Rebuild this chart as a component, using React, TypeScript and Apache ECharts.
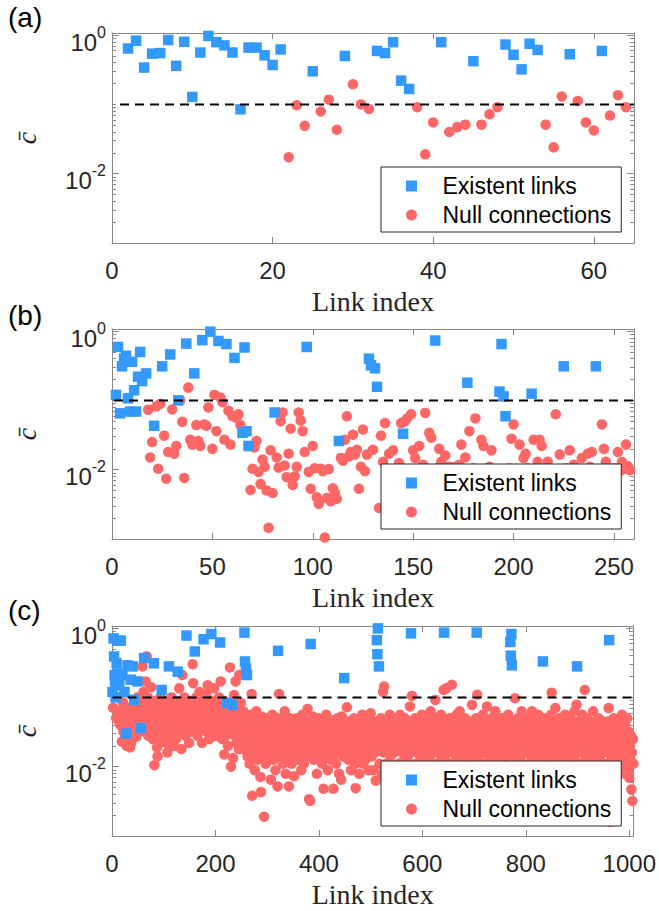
import React, { useEffect, useRef } from "react";
import * as echarts from "echarts";

// ---------- data (c-bar values, log axis) ----------
const threshold = 0.1;

// Panel (a): [link index, c]
const existA: [number, number][] = [
  [2, 0.64], [3, 0.83], [4, 0.34], [5, 0.54], [6, 0.55], [7, 0.85], [8, 0.36], [9, 0.8], [10, 0.128], [11, 0.56],
  [12, 0.97], [13, 0.79], [14, 0.71], [15, 0.56], [16, 0.085], [17, 0.66], [18, 0.66], [19, 0.51], [20, 0.37], [21, 0.62],
  [25, 0.3], [29, 0.5], [33, 0.59], [34, 0.55], [35, 0.79], [36, 0.22], [37, 0.167], [41, 0.79], [45, 0.42],
  [49, 0.73], [50, 0.52], [51, 0.32], [52, 0.75], [53, 0.61], [57, 0.53], [61, 0.59],
];
const nullA: [number, number][] = [
  [22, 0.0173], [23, 0.097], [24, 0.049], [26, 0.079], [27, 0.117], [28, 0.043], [30, 0.195], [31, 0.1], [32, 0.086],
  [38, 0.091], [39, 0.019], [40, 0.055], [42, 0.04], [43, 0.047], [44, 0.051], [46, 0.051], [47, 0.072], [48, 0.091],
  [54, 0.051], [55, 0.024], [56, 0.13], [58, 0.112], [59, 0.055], [60, 0.042], [62, 0.069], [63, 0.136], [64, 0.091],
];

// Panel (b)
const existB: [number, number][] = [
  [2, 0.12], [3, 0.59], [4, 0.065], [5, 0.31], [6, 0.4], [7, 0.44], [8, 0.107], [9, 0.069], [10, 0.36], [11, 0.14],
  [12, 0.069], [13, 0.22], [14, 0.5], [15, 0.19], [17, 0.245], [21, 0.043], [25, 0.31], [29, 0.46], [33, 0.1], [37, 0.66],
  [41, 0.245], [45, 0.74], [49, 0.98], [53, 0.72], [57, 0.65], [61, 0.41], [65, 0.034], [66, 0.58], [67, 0.036], [68, 0.022],
  [81, 0.067], [97, 0.59], [113, 0.026], [128, 0.4], [129, 0.32], [131, 0.29], [132, 0.157], [145, 0.033], [161, 0.73],
  [177, 0.18], [193, 0.134], [194, 0.65], [195, 0.114], [196, 0.059], [209, 0.125], [225, 0.31], [241, 0.31],
];
const nullB: [number, number][] = [
  [18, 0.073], [19, 0.015], [20, 0.025], [22, 0.082], [23, 0.0103], [24, 0.089], [26, 0.031], [27, 0.0074], [28, 0.018],
  [30, 0.074], [31, 0.017], [32, 0.022], [34, 0.1], [35, 0.049], [36, 0.0076], [38, 0.153], [39, 0.027], [40, 0.023],
  [42, 0.044], [43, 0.026], [44, 0.022], [46, 0.045], [47, 0.043], [48, 0.079], [50, 0.02], [51, 0.12], [52, 0.036],
  [54, 0.11], [55, 0.094], [56, 0.027], [58, 0.071], [59, 0.023], [60, 0.059], [62, 0.056], [63, 0.063], [64, 0.044],
  [69, 0.0051], [70, 0.0103], [71, 0.021], [72, 0.026], [73, 0.0093], [74, 0.0062], [75, 0.014], [76, 0.011], [77, 0.005],
  [78, 0.00145], [79, 0.019], [80, 0.0046], [82, 0.015], [83, 0.0107], [84, 0.05], [85, 0.067], [86, 0.0115], [87, 0.0078],
  [88, 0.017], [89, 0.039], [90, 0.006], [91, 0.008], [92, 0.011], [93, 0.067], [94, 0.051], [95, 0.036], [96, 0.018],
  [98, 0.0093], [99, 0.0053], [100, 0.022], [101, 0.0105], [102, 0.004], [103, 0.0032], [104, 0.0103], [105, 0.0095],
  [106, 0.00105], [107, 0.0039], [108, 0.0102], [109, 0.0035], [110, 0.0054], [111, 0.0046], [112, 0.0038], [114, 0.0148],
  [115, 0.0135], [116, 0.027], [117, 0.059], [118, 0.0155], [119, 0.018], [120, 0.032], [121, 0.0165], [122, 0.0194],
  [123, 0.0053], [124, 0.011], [125, 0.038], [126, 0.0095], [127, 0.0165], [130, 0.0194], [133, 0.0028], [134, 0.031],
  [135, 0.013], [136, 0.047], [137, 0.0029], [138, 0.017], [139, 0.0085], [140, 0.019], [141, 0.0062], [142, 0.0105],
  [143, 0.0125], [144, 0.047], [146, 0.05], [147, 0.055], [148, 0.0072], [149, 0.063], [150, 0.019], [151, 0.0147],
  [152, 0.0095], [153, 0.022], [154, 0.0058], [155, 0.0118], [156, 0.066], [157, 0.0088], [158, 0.034], [159, 0.029],
  [160, 0.0045], [162, 0.0105], [163, 0.02], [164, 0.013], [165, 0.0068], [166, 0.016], [167, 0.0092], [168, 0.011],
  [169, 0.0035], [170, 0.0078], [171, 0.011], [172, 0.0055], [173, 0.0118], [174, 0.023], [175, 0.0098], [176, 0.015],
  [178, 0.036], [179, 0.0065], [180, 0.0105], [181, 0.055], [182, 0.0082], [183, 0.0048], [184, 0.027], [185, 0.022],
  [186, 0.0095], [187, 0.0068], [188, 0.011], [189, 0.019], [190, 0.0075], [191, 0.0052], [197, 0.0088], [198, 0.0105],
  [199, 0.028], [200, 0.045], [201, 0.0062], [202, 0.0092], [203, 0.023], [204, 0.0078], [205, 0.0147], [206, 0.017],
  [207, 0.0105], [208, 0.0058], [210, 0.027], [211, 0.0085], [212, 0.013], [213, 0.027], [214, 0.022], [215, 0.0068],
  [216, 0.0098], [217, 0.013], [218, 0.0105], [219, 0.0052], [220, 0.0082], [221, 0.063], [222, 0.0095], [223, 0.0165],
  [224, 0.0072], [226, 0.0105], [227, 0.0062], [228, 0.019], [229, 0.0088], [230, 0.0118], [231, 0.0105], [232, 0.0075],
  [233, 0.0055], [234, 0.0147], [235, 0.0098], [236, 0.0068], [237, 0.017], [238, 0.011], [239, 0.018], [240, 0.0082],
  [242, 0.0095], [243, 0.0062], [244, 0.045], [245, 0.02], [246, 0.013], [247, 0.0105], [248, 0.0078], [249, 0.0088],
  [250, 0.0105], [251, 0.0068], [252, 0.018], [253, 0.0095], [254, 0.0129], [255, 0.0103], [256, 0.023], [257, 0.0112],
  [258, 0.0098],
];

// Panel (c)
const existC: [number, number][] = [
  [1, 0.12], [3, 0.71], [4, 0.39], [5, 0.21], [6, 0.17], [7, 0.1], [9, 0.31], [10, 0.22], [11, 0.66], [14, 0.15],
  [17, 0.66], [20, 0.21], [24, 0.12], [27, 0.03], [30, 0.29], [36, 0.18], [40, 0.28], [43, 0.092], [49, 0.17], [56, 0.036],
  [62, 0.37], [81, 0.31], [96, 0.128], [110, 0.28], [127, 0.235], [144, 0.78], [160, 0.46], [177, 0.69], [192, 0.82],
  [209, 0.62], [223, 0.083], [233, 0.078], [256, 0.86], [257, 0.33], [259, 0.26], [261, 0.21], [321, 0.47], [384, 0.59],
  [449, 0.19], [512, 0.67], [513, 0.42], [514, 0.99], [516, 0.28], [578, 0.84], [642, 0.86], [705, 0.86], [770, 0.63],
  [771, 0.4], [772, 0.82], [773, 0.29], [833, 0.33], [899, 0.28], [961, 0.67],
];
const linkCountC = 1008;
// values of the null connections, in link order (links that are not in existC)
const nullCValues: number[] = [
  .071,.05,.063,.045,.056,.04,.063,.023,.085,.032,.05,.06,.028,.02,.045,.038,.056,.03,.071,.019,.022,.04,.063,.05,.035,.067,.045,.079,.027,.056,.1,
  .053,.045,.074,.032,.063,.041,.089,.28,.05,.12,.036,.071,.17,.056,.39,.045,.1,.028,.063,.05,.079,.035,.056,.14,.045,.063,.025,.071,.0105,.05,.089,.032,.056,.019,.014,.063,.04,.079,.022,.05,.1,.035,.063,.028,.071,.045,
  .056,.032,.079,.045,.063,.022,.016,.05,.089,.04,.071,.028,.056,.1,.045,.035,.063,.02,.079,.05,.04,.067,.025,.056,.089,.045,.071,.135,.032,.063,.05,.018,.079,.21,.045,.056,.036,.1,.063,.028,.071,.05,.04,.085,.056,.022,.063,
  .071,.045,.056,.089,.032,.30,.16,.063,.05,.079,.04,.1,.056,.028,.071,.045,.063,.12,.05,.035,.079,.056,.022,.063,.089,.045,.071,.04,.056,.11,.032,.063,.15,.05,.079,.025,.056,.071,.045,.089,.035,.063,.05,.135,.04,.071,.028,
  .056,.04,.079,.032,.063,.045,.1,.05,.17,.035,.071,.025,.056,.04,.089,.015,.063,.045,.028,.071,.05,.02,.063,.036,.079,.27,.045,.01,.056,.032,.0133,.05,.108,.028,.063,.17,.04,.022,.056,.035,.071,.018,.21,.045,.025,.083,.032,
  .028,.045,.018,.063,.032,.022,.05,.014,.035,.025,.04,.011,.028,.056,.02,.112,.0038,.032,.016,.045,.025,.0089,.035,.02,.063,.028,.0126,.04,.022,.05,.018,.032,.0071,.0043,.053,.025,.014,.036,.02,.0019,.028,.045,.011,.032,.018,.05,
  .022,.035,.014,.028,.045,.018,.0065,.032,.02,.056,.025,.0126,.04,.016,.028,.0089,.035,.022,.05,.0052,.028,.112,.018,.032,.047,.014,.025,.04,.011,.022,.035,.016,.063,.028,.0079,.02,.045,.014,.032,.022,.0052,.028,.05,.018,.035,.011,.025,.04,.016,
  .028,.0073,.04,.018,.032,.022,.05,.014,.028,.0126,.035,.02,.045,.016,.025,.0089,.032,.056,.018,.028,.011,.04,.022,.035,.014,.025,.045,.068,.02,.032,.0034,.016,.0032,.028,.04,.018,.053,.025,.0126,.035,.02,.045,.016,.028,.0079,.032,.022,.05,.014,
  .025,.035,.016,.047,.022,.011,.032,.02,.0048,.028,.04,.014,.025,.056,.018,.032,.0089,.022,.035,.016,.045,.025,.0126,.028,.02,.04,.014,.0048,.032,.047,.018,.025,.011,.035,.02,.05,.016,.028,.0079,.032,.022,.04,.0065,.053,.018,.028,.014,.035,.022,
  .032,.016,.025,.072,.02,.035,.0126,.028,.045,.018,.025,.0089,.032,.022,.04,.014,.028,.05,.02,.011,.0049,.035,.018,.025,.045,.016,.032,.0079,.022,.04,.014,.028,.02,.056,.025,.011,.035,.018,.028,.0126,.045,.022,.032,.016,.025,.0089,.04,.02,.028,.059,
  .025,.014,.035,.02,.0089,.045,.028,.016,.032,.0063,.022,.04,.011,.028,.018,.05,.025,.0079,.035,.12,.016,.143,.028,.02,.045,.011,.032,.022,.0071,.04,.018,.028,.056,.014,.025,.035,.0089,.02,.045,.028,.016,.032,.0063,.022,.04,.025,
  .018,.045,.028,.011,.035,.02,.056,.025,.0079,.032,.016,.04,.022,.028,.0126,.05,.018,.032,.0063,.025,.04,.014,.028,.02,.045,.074,.016,.032,.105,.022,.0089,.035,.018,.028,.05,.011,.025,.04,.016,.032,.02,.0071,.045,.025,.014,.035,.022,.056,.028,
  .018,.04,.011,.032,.022,.05,.016,.028,.0079,.035,.02,.045,.025,.014,.032,.063,.018,.028,.0089,.04,.022,.032,.016,.05,.092,.025,.011,.035,.02,.028,.0063,.045,.018,.032,.022,.056,.014,.028,.04,.02,.128,.025,.0126,.035,.135,.018,.045,.028,.016,
  .032,.022,.05,.011,.028,.04,.152,.018,.035,.025,.0079,.045,.02,.032,.014,.056,.025,.0089,.04,.018,.028,.063,.022,.035,.011,.045,.016,.028,.0071,.032,.02,.05,.025,.014,.04,.022,.0089,.035,.018,.028,.045,.016,.032,.0126,.025,.078,.02,.04,.011,.028,
  .018,.035,.022,.05,.109,.025,.014,.032,.02,.045,.0089,.028,.016,.04,.022,.056,.011,.032,.025,.018,.035,.0071,.028,.074,.02,.045,.014,.032,.025,.0079,.04,.018,.028,.05,.022,.011,.035,.016,.028,.063,.02,.0089,.032,.025,.045,.014,.028,.02,.04,
  .016,.032,.022,.05,.011,.028,.04,.018,.035,.0079,.025,.045,.014,.032,.02,.056,.025,.0089,.035,.018,.028,.045,.016,.032,.097,.022,.0126,.04,.025,.018,.05,.0071,.032,.022,.035,.014,.028,.063,.02,.04,.011,.025,.032,.018,.045,.028,
  .016,.035,.022,.05,.0089,.028,.04,.018,.032,.014,.025,.063,.02,.035,.011,.028,.045,.016,.032,.0079,.025,.04,.02,.056,.014,.028,.035,.018,.045,.0126,.025,.032,.022,.05,.016,.028,.0089,.04,.02,.032,.025,.0071,.045,.018,.028,.035,.014,.056,.117,
  .025,.04,.018,.032,.011,.028,.07,.02,.045,.016,.035,.0089,.025,.05,.022,.032,.014,.04,.028,.0079,.02,.045,.025,.035,.016,.056,.022,.011,.032,.028,.018,.04,.0126,.025,.05,.02,.035,.0089,.028,.045,.016,.032,.022,.063,.014,.028,.04,.078,.02,
  .032,.016,.045,.025,.011,.035,.02,.028,.056,.018,.0089,.04,.022,.128,.032,.014,.025,.05,.018,.035,.0079,.028,.045,.02,.032,.011,.04,.025,.016,.063,.022,.035,.0126,.028,.045,.018,.032,.0089,.025,.05,.02,.035,.014,.047,.028,.022,.04,.016,.032,.025,
  .018,.04,.028,.021,.011,.035,.02,.045,.016,.07,.025,.0016,.032,.014,.028,.0089,.04,.022,.05,.018,.032,.011,.025,.035,.0079,.02,.045,.028,.016,.032,.022,.04,.014,.028,.056,.02,.011,.035,.025,.0079,.04,.018,.028,.014,.05,.022,.0089,.032,.0069,.02,.0126,.028,.0047,.016,.0032,.025,.011,
];

// axes
const xMaxes = [65, 260, 1008];
const xTickValues = [
  [0, 20, 40, 60],
  [0, 50, 100, 150, 200, 250],
  [0, 200, 400, 600, 800, 1000],
];
const yMajorExp = [-2, 0];
const panelTags = ["(a)", "(b)", "(c)"];

// ---------- styling / layout ----------
const SANS = "'Liberation Sans', Arial, sans-serif";
const SERIF = "'Liberation Serif', 'Times New Roman', serif";
const AXIS_C = "#888888";
const TXT_C = "#262626";
const BLUE = "#3399FF";
const RED = "#FF6666";
const gridTops = [33, 329, 626];
const legendTops = [167, 464, 761];
const tagTops = [3, 301, 596];
const GRID_LEFT = 112;
const GRID_W = 522;
const GRID_H = 210;
const Y_MIN = -3;
const Y_MAX = 0.03;
const MARK = 10.5;

function buildNullC(): [number, number][] {
  const blue = new Set(existC.map((d) => d[0]));
  const out: [number, number][] = [];
  let k = 0;
  for (let i = 1; i <= linkCountC && k < nullCValues.length; i++) {
    if (blue.has(i)) continue;
    out.push([i, nullCValues[k++]]);
  }
  return out;
}

function buildOption() {
  const panels = [
    { exist: existA, nul: nullA },
    { exist: existB, nul: nullB },
    { exist: existC, nul: buildNullC() },
  ];
  const minorY: number[] = [];
  for (const n of [-3, -2, -1]) {
    for (let k = 1; k <= 9; k++) {
      const v = n + Math.log10(k);
      if (Math.abs(v + 2) < 1e-9) continue;
      minorY.push(v);
    }
  }
  const line = { color: AXIS_C, width: 1 };
  const grid: any[] = [];
  const xAxis: any[] = [];
  const yAxis: any[] = [];
  const series: any[] = [];
  const legend: any[] = [];
  const graphic: any[] = [];
  const toLog = (d: [number, number][]) => d.map(([i, v]) => [i, Math.log10(v)]);

  panels.forEach((p, g) => {
    grid.push({ left: GRID_LEFT, top: gridTops[g], width: GRID_W, height: GRID_H });
    const xm = xMaxes[g];
    const xt = xTickValues[g];
    xAxis.push({
      gridIndex: g, type: "value", min: 0, max: xm, position: "bottom",
      axisLine: { show: true, onZero: false, lineStyle: line },
      axisTick: { show: true, inside: true, length: 6, customValues: xt, lineStyle: line },
      axisLabel: {
        show: true, customValues: xt, margin: 15, fontSize: 24, fontFamily: SANS, color: TXT_C,
        formatter: (v: number) => String(v),
      },
      splitLine: { show: false },
      name: "Link index", nameLocation: "middle", nameGap: 44,
      nameTextStyle: { fontFamily: SERIF, fontSize: 28, color: TXT_C },
    });
    xAxis.push({
      gridIndex: g, type: "value", min: 0, max: xm, position: "top",
      axisLine: { show: true, onZero: false, lineStyle: line },
      axisTick: { show: true, inside: true, length: 6, customValues: xt, lineStyle: line },
      axisLabel: { show: false }, splitLine: { show: false },
    });
    for (const side of ["left", "right"]) {
      yAxis.push({
        gridIndex: g, type: "value", min: Y_MIN, max: Y_MAX, position: side,
        axisLine: { show: true, onZero: false, lineStyle: line },
        axisTick: { show: true, inside: true, length: 7, customValues: yMajorExp, lineStyle: line },
        axisLabel: side === "left" ? {
          show: true, customValues: yMajorExp, margin: 6,
          formatter: (v: number) => `{b|10}{s|${Math.round(v)}}`,
          rich: {
            b: { fontSize: 24, fontFamily: SANS, color: TXT_C, padding: [14, 0, 0, 0] },
            s: { fontSize: 16, fontFamily: SANS, color: TXT_C, verticalAlign: "top", padding: [8, 0, 0, 0] },
          },
        } : { show: false },
        splitLine: { show: false },
        name: side === "left" ? "c\u0304" : "",
        nameLocation: "middle", nameRotate: 90, nameGap: 72,
        nameTextStyle: { fontFamily: SERIF, fontStyle: "italic", fontSize: 28, color: TXT_C },
      });
      yAxis.push({
        gridIndex: g, type: "value", min: Y_MIN, max: Y_MAX, position: side,
        axisLine: { show: false, onZero: false },
        axisTick: { show: true, inside: true, length: 4, customValues: minorY, lineStyle: line },
        axisLabel: { show: false }, splitLine: { show: false },
      });
    }
    const xi = 2 * g;
    const yi = 4 * g;
    series.push({
      type: "scatter", name: "Null connections", xAxisIndex: xi, yAxisIndex: yi,
      data: toLog(p.nul), symbol: "circle", symbolSize: MARK,
      itemStyle: { color: RED, opacity: 1 }, z: 2, silent: true,
    });
    series.push({
      type: "scatter", name: "Existent links", xAxisIndex: xi, yAxisIndex: yi,
      data: toLog(p.exist), symbol: "rect", symbolSize: MARK,
      itemStyle: { color: BLUE, opacity: 1 }, z: 3, silent: true,
    });
    series.push({
      type: "line", xAxisIndex: xi, yAxisIndex: yi,
      data: [[1, Math.log10(threshold)], [xm, Math.log10(threshold)]],
      symbol: "none", lineStyle: { color: "#000", width: 2, type: [9, 6] }, z: 4, silent: true,
    });
    legend.push({
      data: [
        { name: "Existent links", icon: "path://M0,0L10,0L10,10L0,10Z" },
        { name: "Null connections", icon: "circle" },
      ],
      orient: "vertical", left: 381, top: legendTops[g],
      itemWidth: 52, itemHeight: 11, itemGap: 5, padding: [7, 10, 5, 25],
      backgroundColor: "#fff", borderColor: "#262626", borderWidth: 1, borderRadius: 0,
      textStyle: { fontSize: 23, fontFamily: SANS, color: "#000", lineHeight: 24 },
      selectedMode: false, symbolKeepAspect: true,
    });
    graphic.push({
      type: "text", left: 8, top: tagTops[g],
      style: { text: panelTags[g], fontSize: 28, fontFamily: SANS, fill: "#000" },
    });
  });

  return {
    animation: false,
    backgroundColor: "#fff",
    textStyle: { fontFamily: SANS },
    grid, xAxis, yAxis, series, legend, graphic,
  };
}

export default function App() {
  const ref = useRef<HTMLDivElement>(null);
  useEffect(() => {
    if (!ref.current) return;
    const chart = echarts.init(ref.current, null, { renderer: "svg" });
    chart.setOption(buildOption() as any);
    return () => chart.dispose();
  }, []);
  return (
    <div
      ref={ref}
      style={{ position: "absolute", left: 0, top: 0, width: 659, height: 911 }}
    />
  );
}
